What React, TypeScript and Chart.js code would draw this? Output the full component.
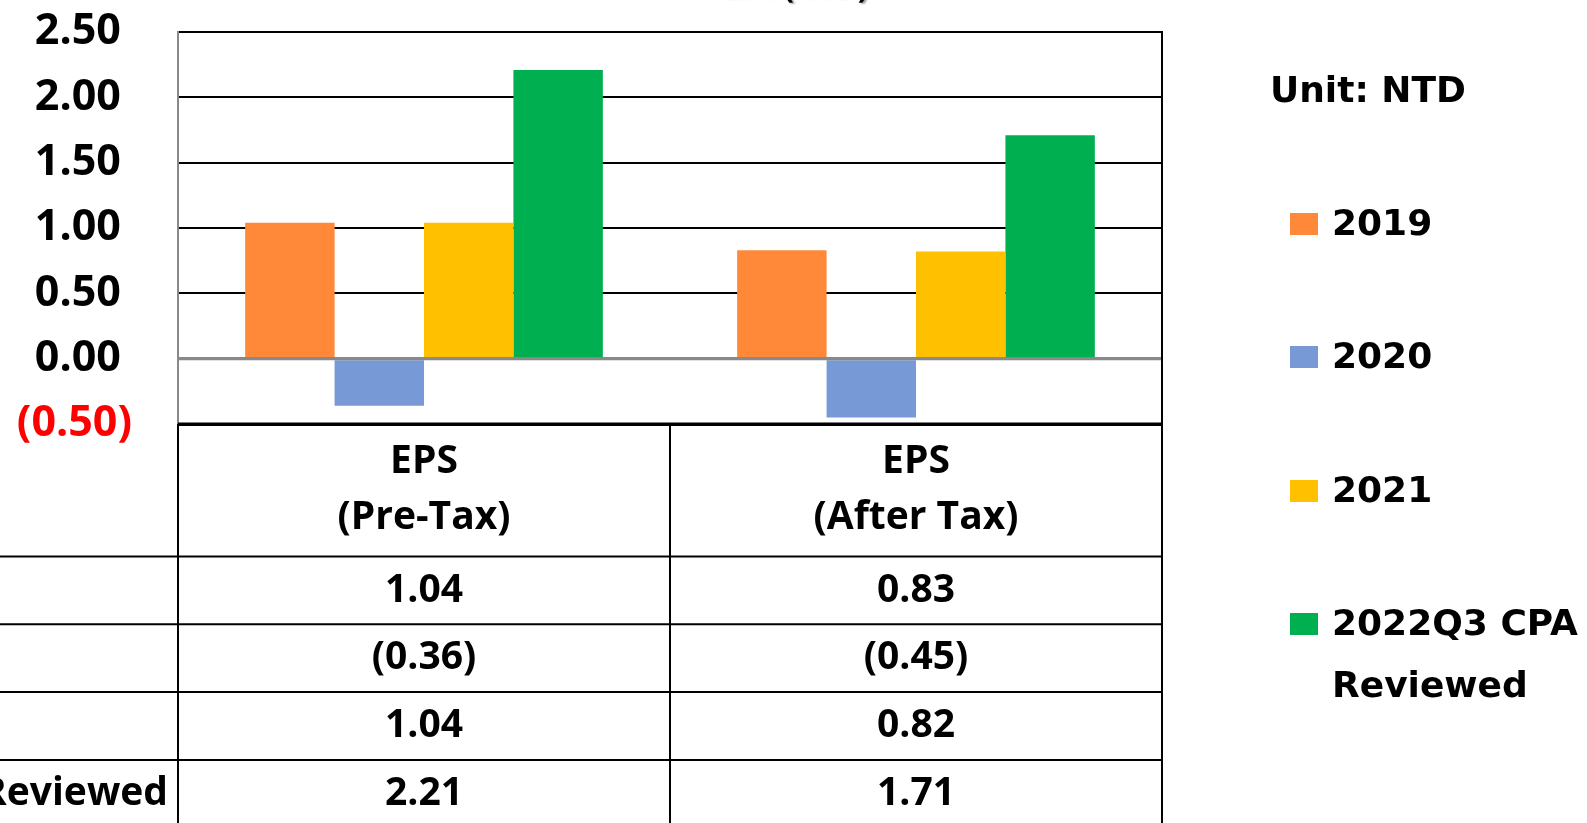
import React, { useEffect, useRef } from "react";
import { Chart, registerables } from "chart.js";

Chart.register(...registerables);

const categories: string[][] = [["EPS", "(Pre-Tax)"], ["EPS", "(After Tax)"]];
const seriesLabels = ["2019", "2020", "2021", "2022Q3 CPA Reviewed"];
const legendLines = [["2019"], ["2020"], ["2021"], ["2022Q3 CPA", "Reviewed"]];
const seriesColors = ["#FF8839", "#7799D6", "#FFC000", "#00AF50"];
const values2019 = [1.04, 0.83];
const values2020 = [-0.36, -0.45];
const values2021 = [1.04, 0.82];
const values2022Q3 = [2.21, 1.71];
const yTicks = { min: -0.5, max: 2.5, step: 0.5 };
const unitText = "Unit: NTD";
const titleText = "EPS (NTD)";

const W = 1587;
const H = 823;
const fmt = (v: number) => (v < 0 ? `(${Math.abs(v).toFixed(2)})` : v.toFixed(2));

export default function App() {
  const ref = useRef<HTMLCanvasElement | null>(null);
  useEffect(() => {
    document.body.style.margin = "0";
    const canvas = ref.current!;
    const seriesData = [values2019, values2020, values2021, values2022Q3];

    const tablePlugin = {
      id: "tableAndLegend",
      afterDatasetsDraw(chart: any) {
        const { ctx, chartArea } = chart;
        const y = chart.scales.y;
        const zy = y.getPixelForValue(0);
        ctx.save();
        ctx.strokeStyle = "#898989";
        ctx.lineWidth = 3;
        ctx.beginPath();
        ctx.moveTo(chartArea.left, zy);
        ctx.lineTo(chartArea.right, zy);
        ctx.stroke();
        ctx.restore();
      },
      afterDraw(chart: any) {
        const { ctx, chartArea } = chart;
        const xs = chart.scales.x;
        const left = chartArea.left;
        const right = chartArea.right;
        const top = chartArea.bottom;
        const catW = (right - left) / categories.length;
        const headerH = 132.5;
        const rowH = 67.8;
        ctx.save();
        // title (mostly cut off at top of the picture)
        ctx.font = 'bold 30px "Open Sans"';
        ctx.textAlign = "right";
        ctx.textBaseline = "alphabetic";
        ctx.fillStyle = "#000";
        ctx.shadowColor = "rgba(0,0,0,0.4)";
        ctx.shadowOffsetX = 2;
        ctx.shadowOffsetY = 1;
        ctx.shadowBlur = 2;
        ctx.fillText(titleText, 868, -2);
        ctx.shadowColor = "transparent";
        ctx.shadowBlur = 0;
        ctx.shadowOffsetX = 0;
        ctx.shadowOffsetY = 0;

        // right border of plot
        ctx.strokeStyle = "#000";
        ctx.lineWidth = 2;
        ctx.beginPath();
        ctx.moveTo(right, chartArea.top - 1);
        ctx.lineTo(right, chartArea.bottom);
        ctx.stroke();

        // table grid
        ctx.lineWidth = 2;
        ctx.strokeStyle = "#000";
        ctx.beginPath();
        for (let i = 0; i <= categories.length; i++) {
          const x = left + i * catW;
          ctx.moveTo(x, top);
          ctx.lineTo(x, H);
        }
        for (let r = 0; r < seriesLabels.length; r++) {
          const yy = top + headerH + r * rowH;
          ctx.moveTo(0, yy);
          ctx.lineTo(right, yy);
        }
        ctx.stroke();
        ctx.lineWidth = 3;
        ctx.beginPath();
        ctx.moveTo(left, top);
        ctx.lineTo(right, top);
        ctx.stroke();

        // header text
        ctx.fillStyle = "#000";
        ctx.font = 'bold 39px "Open Sans"';
        ctx.textAlign = "center";
        ctx.textBaseline = "middle";
        categories.forEach((lines, i) => {
          const cx = xs.getPixelForValue(i);
          lines.forEach((ln, k) => ctx.fillText(ln, cx, top + 38 + k * 56));
        });
        // values
        seriesData.forEach((arr, r) => {
          const cy = top + headerH + r * rowH + rowH / 2;
          arr.forEach((v, i) => {
            ctx.fillText(fmt(v), xs.getPixelForValue(i), cy);
          });
        });
        // row labels (left aligned, mostly off-screen)
        ctx.textAlign = "left";
        const longest = Math.max(...seriesLabels.map((s) => ctx.measureText(s).width));
        const startX = 168 - longest;
        seriesLabels.forEach((s, r) => {
          const cy = top + headerH + r * rowH + rowH / 2;
          ctx.fillText(s, startX, cy);
        });

        // legend
        ctx.font = 'bold 36px "DejaVu Sans"';
        ctx.textAlign = "left";
        ctx.textBaseline = "middle";
        ctx.fillText(unitText, 1270, 93);
        const itemY = [224, 357, 491, 624];
        legendLines.forEach((lines, i) => {
          ctx.fillStyle = seriesColors[i];
          ctx.fillRect(1290, itemY[i] - 11, 28, 22);
          ctx.fillStyle = "#000";
          lines.forEach((ln, k) => ctx.fillText(ln, 1332, itemY[i] + 2 + k * 62));
        });
        ctx.restore();
      },
    };

    const chart = new Chart(canvas, {
      type: "bar",
      data: {
        labels: categories.map((c) => c.join(" ")),
        datasets: seriesLabels.map((lab, i) => ({
          label: lab,
          data: seriesData[i],
          backgroundColor: seriesColors[i],
          borderWidth: 0,
          barPercentage: 1,
          categoryPercentage: 0.727,
        })),
      },
      options: {
        responsive: false,
        animation: false,
        layout: { padding: { left: 0, top: 32, right: W - 1162, bottom: H - 424 } },
        plugins: { legend: { display: false }, tooltip: { enabled: false }, title: { display: false } },
        scales: {
          x: { type: "category", display: false, offset: true },
          y: {
            min: yTicks.min,
            max: yTicks.max,
            afterFit: (s: any) => {
              s.width = 178;
              s.paddingTop = 0;
              s.paddingBottom = 0;
            },
            afterBuildTicks: (s: any) => {
              const t = [];
              for (let v = yTicks.min; v <= yTicks.max + 1e-9; v += yTicks.step) t.push({ value: Math.round(v * 100) / 100 });
              s.ticks = t;
            },
            border: { display: true, color: "#898989", width: 2 },
            grid: {
              drawTicks: false,
              color: (c: any) => (c.tick && c.tick.value === 0 ? "#898989" : "#000"),
              lineWidth: (c: any) => (c.tick && c.tick.value === 0 ? 3 : c.tick && c.tick.value === yTicks.min ? 3 : 2),
            },
            ticks: {
              padding: 46,
              font: { family: '"Open Sans"', size: 43, weight: "bold" },
              color: (c: any) => (c.tick && c.tick.value < 0 ? "#FF0000" : "#000"),
              callback: (v: any) => (Number(v) < 0 ? fmt(Number(v)) : Number(v).toFixed(2) + " "),
            },
          },
        },
      },
      plugins: [tablePlugin],
    });
    return () => chart.destroy();
  }, []);

  return (
    <div style={{ position: "absolute", left: 0, top: 0, width: W, height: H, background: "#fff" }}>
      <canvas ref={ref} width={W} height={H} style={{ display: "block", width: W, height: H }} />
    </div>
  );
}
